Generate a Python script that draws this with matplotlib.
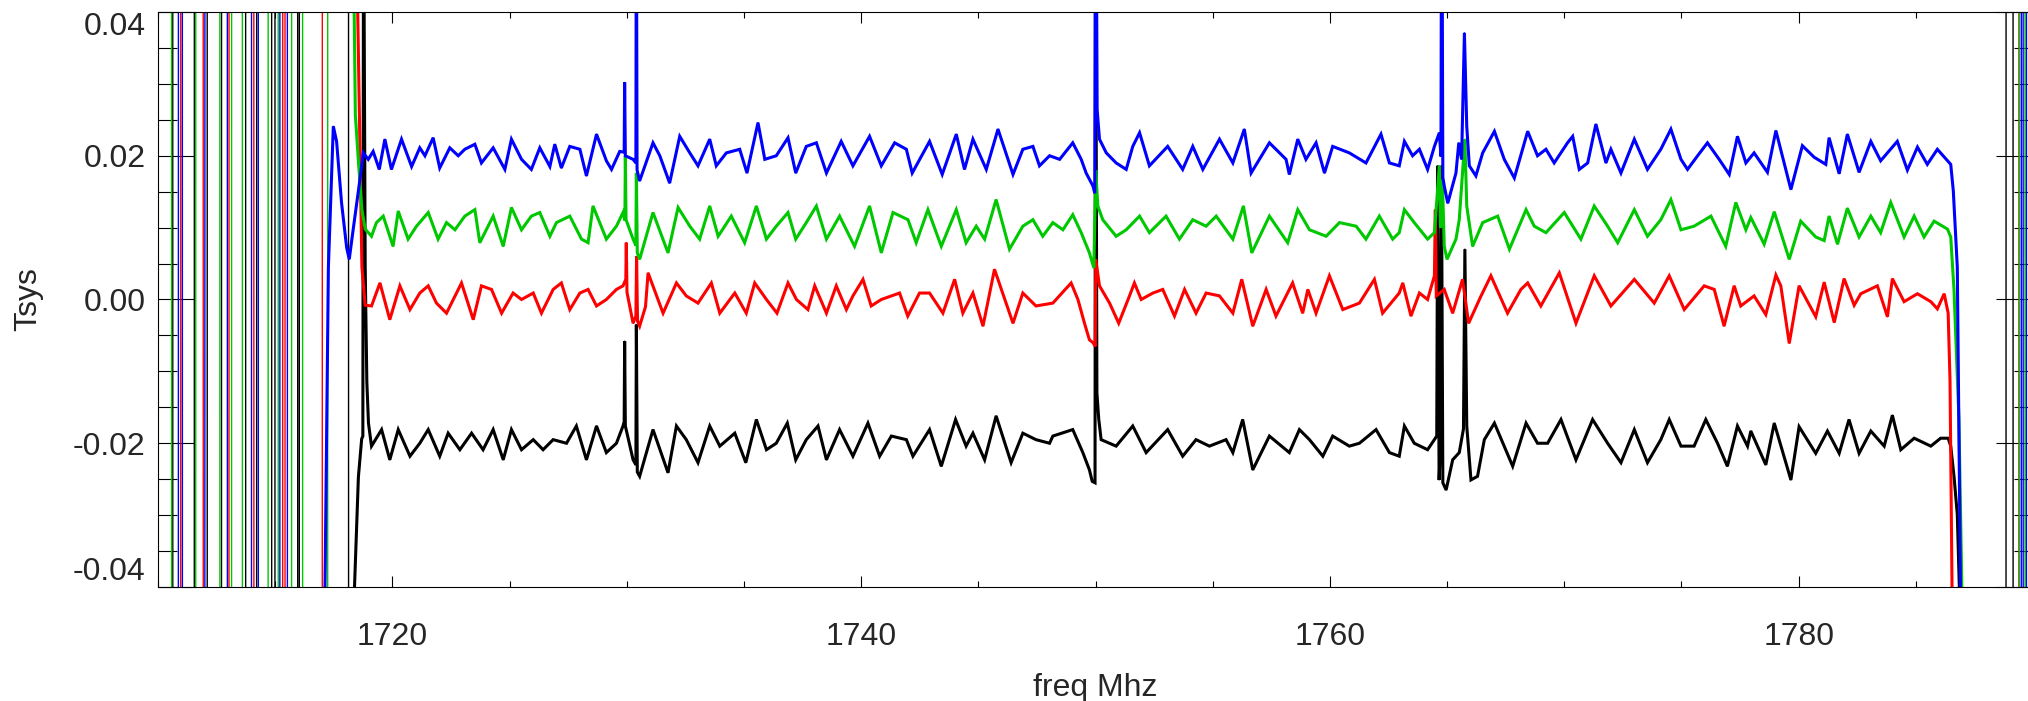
import numpy as np
import matplotlib
matplotlib.use("Agg")
from matplotlib import pyplot as plt
from matplotlib.ticker import MultipleLocator

# Tsys values are in units of 1e-3; frequencies in MHz.
# band-edge channels (far off scale) at the low end
blue_left_f = [1709.5, 1710.86, 1710.88, 1711.03, 1711.05, 1711.99, 1712.01, 1712.95, 1712.97,
               1713.98, 1714.00, 1714.27, 1714.29, 1715.19, 1715.21, 1715.51, 1715.53, 1716.9]
blue_left_v = [-500, -500, 500, 500, -500, -500, 500, 500, -500,
               -500, 500, 500, -500, -500, 500, 500, -500, -500]
green_left_f = [1709.5, 1710.57, 1710.59, 1711.60, 1711.62, 1712.63, 1712.65, 1713.13, 1713.15,
                1713.59, 1713.61, 1714.69, 1714.71, 1715.12, 1715.14, 1715.69, 1715.71, 1716.16,
                1716.18, 1717.23, 1717.25, 1718.2]
green_left_v = [500, 500, -500, -500, 500, 500, -500, -500, 500,
                500, -500, -500, 500, 500, -500, -500, 500, 500,
                -500, -500, 500, 500]
red_left_f = [1709.5, 1710.96, 1710.98, 1711.92, 1711.94, 1713.02, 1713.04, 1714.08, 1714.10,
              1715.31, 1715.33, 1715.41, 1715.43, 1717.00, 1717.02, 1718.3]
red_left_v = [-500, -500, 500, 500, -500, -500, 500, 500, -500,
              -500, 500, 500, -500, -500, 500, 500]
black_left_f = [1709.5, 1710.62, 1710.64, 1711.54, 1711.56, 1712.09, 1712.11, 1712.70, 1712.72,
                1713.73, 1713.75, 1714.20, 1714.22, 1714.84, 1714.86, 1714.98, 1715.00, 1715.95,
                1715.97, 1716.02, 1716.04, 1718.12, 1718.14, 1718.25]
black_left_v = [500, 500, -500, -500, 500, 500, -500, -500, 500,
                500, -500, -500, 500, 500, -500, -500, 500, 500,
                -500, -500, 500, 500, -500, -500]

# band-edge channels at the high end
blue_right_f = [1787.2, 1789.49, 1789.51, 1789.57, 1789.59, 1789.71, 1789.73, 1790.5]
blue_right_v = [-500, -500, 500, 500, -500, -500, 500, 500]
green_right_f = [1787.3, 1789.41, 1789.43, 1789.65, 1789.67, 1790.5]
green_right_v = [-500, -500, 500, 500, -500, -500]
red_right_f = [1786.8, 1789.39, 1789.41, 1790.5]
red_right_v = [-500, -500, 500, 500]
black_right_f = [1787.2, 1788.84, 1788.86, 1789.14, 1789.16, 1790.5]
black_right_v = [-500, -500, 500, 500, -500, -500]

# in-band spectra (freq, Tsys*1e3)
blue_pts = [
    (1717.06, -60), (1717.27, 4.5), (1717.48, 24.1), (1717.62, 22.0), (1717.83, 13.5),
    (1718.05, 7.2), (1718.16, 5.6), (1718.33, 9.8), (1718.55, 15.1), (1718.76, 20.4),
    (1718.97, 19.5), (1719.18, 20.6), (1719.44, 18.1), (1719.68, 22.3), (1719.96, 18.1),
    (1720.39, 22.3), (1720.82, 18.5), (1721.17, 21.1), (1721.39, 20.0), (1721.74, 22.5),
    (1722.02, 18.3), (1722.45, 21.1), (1722.81, 20.0), (1723.09, 20.9), (1723.52, 21.6),
    (1723.80, 19.0), (1724.30, 21.1), (1724.80, 18.1), (1725.08, 22.3), (1725.51, 19.5),
    (1725.93, 18.1), (1726.29, 21.1), (1726.72, 18.5), (1726.93, 21.6), (1727.21, 18.3),
    (1727.57, 21.3), (1728.00, 20.9), (1728.28, 17.2), (1728.71, 23.0), (1729.13, 19.3),
    (1729.35, 18.1), (1729.70, 20.6), (1729.89, 20.5), (1729.91, 30.2), (1729.94, 20.0),
    (1730.27, 19.5), (1730.39, 19.0), (1730.41, 60.0), (1730.44, 18.0), (1730.55, 16.5),
    (1731.12, 21.8), (1731.41, 20.0), (1731.83, 16.2), (1732.26, 22.7), (1732.69, 20.4),
    (1733.04, 18.6), (1733.54, 22.3), (1733.82, 18.6), (1734.25, 20.4), (1734.82, 20.9),
    (1735.13, 17.6), (1735.60, 24.6), (1735.89, 19.5), (1736.38, 20.0), (1736.88, 22.5),
    (1737.21, 17.6), (1737.66, 21.3), (1738.09, 21.8), (1738.52, 17.6), (1739.15, 22.0),
    (1739.65, 18.6), (1740.36, 22.7), (1740.86, 18.6), (1741.43, 21.8), (1741.93, 20.9),
    (1742.18, 17.6), (1742.92, 22.0), (1743.46, 17.4), (1744.06, 23.0), (1744.41, 18.1),
    (1744.77, 22.3), (1745.34, 18.1), (1745.84, 23.7), (1746.48, 17.4), (1746.90, 20.9),
    (1747.33, 21.3), (1747.61, 18.6), (1748.04, 20.0), (1748.47, 19.5), (1749.03, 21.8),
    (1749.39, 19.5), (1749.60, 17.6), (1749.89, 15.8), (1749.97, 14.8), (1750.01, 70.0),
    (1750.07, 26.4), (1750.17, 22.3), (1750.46, 20.4), (1750.88, 19.0), (1751.31, 18.1),
    (1751.59, 21.3), (1751.88, 23.2), (1752.30, 18.6), (1753.08, 21.3), (1753.72, 18.1),
    (1754.15, 21.3), (1754.58, 18.1), (1755.29, 22.3), (1755.86, 19.0), (1756.35, 23.7),
    (1756.64, 17.6), (1757.42, 21.8), (1758.13, 19.5), (1758.27, 17.4), (1758.63, 22.3),
    (1758.98, 19.5), (1759.41, 21.8), (1759.77, 17.6), (1760.12, 21.3), (1760.83, 20.4),
    (1761.54, 19.0), (1762.18, 23.0), (1762.54, 19.0), (1762.96, 18.6), (1763.18, 22.0),
    (1763.53, 20.0), (1763.82, 20.9), (1764.17, 18.1), (1764.46, 21.3), (1764.67, 23.2),
    (1764.74, 19.9), (1764.77, 70.0), (1764.82, 17.0), (1764.88, 15.8), (1765.03, 13.4),
    (1765.38, 17.6), (1765.50, 21.8), (1765.62, 19.5), (1765.74, 37.1), (1765.84, 24.1),
    (1765.95, 18.6), (1766.23, 17.2), (1766.52, 20.4), (1767.02, 23.4), (1767.44, 19.5),
    (1767.87, 16.9), (1768.44, 23.4), (1768.86, 20.0), (1769.22, 20.9), (1769.57, 19.0),
    (1770.14, 21.8), (1770.36, 22.7), (1770.64, 18.1), (1771.00, 19.0), (1771.35, 24.4),
    (1771.78, 19.0), (1771.99, 20.9), (1772.42, 17.6), (1772.99, 22.3), (1773.55, 18.1),
    (1774.12, 20.9), (1774.55, 23.7), (1774.98, 19.5), (1775.26, 18.1), (1775.69, 20.0),
    (1776.11, 21.8), (1776.61, 19.5), (1777.04, 17.4), (1777.39, 22.7), (1777.75, 19.0),
    (1778.10, 20.4), (1778.67, 17.7), (1779.03, 23.5), (1779.67, 15.3), (1780.16, 21.4),
    (1780.66, 19.8), (1781.16, 18.8), (1781.30, 22.5), (1781.73, 17.5), (1782.08, 23.0),
    (1782.58, 17.7), (1783.08, 22.0), (1783.50, 19.3), (1784.21, 22.0), (1784.64, 18.0),
    (1785.07, 21.2), (1785.49, 18.8), (1785.92, 20.9), (1786.35, 19.3), (1786.49, 18.8),
    (1786.60, 15.1), (1786.77, 4.5), (1786.92, -45),
]

green_pts = [
    (1718.30, 60), (1718.42, 25.7), (1718.56, 18.8), (1718.70, 12.5), (1718.84, 9.8),
    (1719.11, 8.8), (1719.32, 10.7), (1719.61, 11.6), (1720.03, 7.4), (1720.25, 12.3),
    (1720.67, 8.4), (1721.03, 10.2), (1721.53, 12.1), (1721.95, 8.4), (1722.31, 10.7),
    (1722.67, 9.7), (1723.09, 11.6), (1723.52, 12.5), (1723.73, 7.9), (1724.30, 11.6),
    (1724.73, 7.4), (1725.08, 12.8), (1725.51, 9.7), (1725.93, 11.6), (1726.29, 12.1),
    (1726.72, 8.8), (1727.00, 10.7), (1727.57, 11.6), (1728.07, 8.4), (1728.35, 7.9),
    (1728.56, 13.0), (1729.13, 8.4), (1729.56, 10.2), (1729.84, 12.1), (1729.92, 11.0),
    (1729.94, 20.0), (1729.97, 11.1), (1730.27, 8.4), (1730.39, 7.5), (1730.41, 17.6),
    (1730.45, 6.5), (1730.55, 5.6), (1731.12, 12.1), (1731.76, 6.5), (1732.19, 12.8),
    (1732.69, 10.2), (1733.11, 8.4), (1733.54, 13.0), (1733.90, 8.8), (1734.46, 11.6),
    (1735.03, 7.9), (1735.53, 13.0), (1735.96, 8.4), (1736.38, 10.2), (1736.88, 12.1),
    (1737.21, 8.4), (1737.66, 10.7), (1738.09, 13.0), (1738.52, 8.4), (1739.08, 11.6),
    (1739.72, 7.4), (1740.36, 13.0), (1740.86, 6.5), (1741.36, 12.1), (1742.00, 11.1),
    (1742.35, 7.9), (1742.85, 12.5), (1743.42, 7.4), (1744.06, 12.5), (1744.48, 7.9),
    (1744.91, 10.2), (1745.27, 8.4), (1745.76, 13.9), (1746.33, 7.0), (1746.90, 10.2),
    (1747.33, 11.1), (1747.75, 8.8), (1748.18, 10.7), (1748.61, 9.7), (1749.03, 11.8),
    (1749.39, 9.3), (1749.74, 6.5), (1749.93, 4.4), (1750.01, 18.0), (1750.10, 13.0),
    (1750.31, 11.1), (1750.88, 8.8), (1751.31, 9.7), (1751.88, 11.6), (1752.30, 9.3),
    (1753.01, 11.6), (1753.58, 8.4), (1754.15, 11.1), (1754.72, 10.2), (1755.15, 11.6),
    (1755.86, 8.4), (1756.31, 13.0), (1756.67, 6.5), (1757.42, 11.6), (1758.20, 7.9),
    (1758.63, 12.5), (1759.13, 9.7), (1759.84, 8.8), (1760.41, 10.7), (1761.12, 10.2),
    (1761.54, 8.4), (1762.11, 11.6), (1762.68, 8.4), (1762.96, 9.3), (1763.18, 12.5),
    (1763.60, 10.7), (1764.17, 8.4), (1764.46, 9.3), (1764.67, 18.6), (1764.72, 10.0),
    (1764.80, 16.7), (1764.88, 7.4), (1765.00, 5.6), (1765.38, 8.4), (1765.52, 11.1),
    (1765.76, 22.3), (1765.84, 13.0), (1766.09, 7.4), (1766.52, 10.7), (1767.16, 11.6),
    (1767.66, 7.0), (1768.37, 12.5), (1768.72, 10.2), (1769.22, 9.3), (1770.00, 12.1),
    (1770.71, 8.4), (1771.28, 13.0), (1771.85, 10.2), (1772.28, 7.9), (1772.99, 12.5),
    (1773.55, 8.8), (1774.12, 11.1), (1774.55, 13.9), (1774.98, 9.7), (1775.54, 10.2),
    (1776.26, 11.6), (1776.89, 7.4), (1777.32, 13.5), (1777.75, 9.7), (1777.96, 11.4),
    (1778.53, 7.7), (1778.96, 12.2), (1779.60, 5.6), (1780.09, 10.9), (1780.73, 8.7),
    (1781.09, 8.2), (1781.30, 11.6), (1781.66, 7.7), (1782.08, 12.7), (1782.58, 8.7),
    (1783.08, 11.6), (1783.50, 9.3), (1783.93, 13.5), (1784.50, 8.7), (1784.93, 11.6),
    (1785.35, 8.7), (1785.78, 10.9), (1786.35, 9.8), (1786.49, 8.7), (1786.63, 1.3),
    (1786.84, -16.7), (1786.99, -45),
]

red_pts = [
    (1718.42, 60), (1718.70, 4.5), (1718.84, -0.8), (1719.11, -0.9), (1719.47, 2.3),
    (1719.89, -2.8), (1720.32, 1.9), (1720.75, -1.4), (1721.17, 0.9), (1721.53, 1.9),
    (1721.88, -0.5), (1722.31, -1.9), (1722.95, 2.3), (1723.45, -2.8), (1723.80, 1.9),
    (1724.23, 1.4), (1724.66, -1.9), (1725.15, 0.9), (1725.51, 0.0), (1726.01, 0.9),
    (1726.36, -1.9), (1726.86, 1.4), (1727.21, 2.3), (1727.57, -1.4), (1728.00, 0.9),
    (1728.35, 1.4), (1728.71, -0.9), (1729.13, 0.0), (1729.56, 1.4), (1729.84, 1.9),
    (1729.96, 2.8), (1729.98, 7.9), (1730.01, 1.0), (1730.27, -3.3), (1730.39, -2.3),
    (1730.42, 6.0), (1730.46, -3.0), (1730.55, -3.7), (1730.80, -1.0), (1730.91, 3.7),
    (1731.55, -1.9), (1732.12, 2.3), (1732.54, 0.5), (1733.04, -0.5), (1733.61, 2.3),
    (1733.97, -1.9), (1734.61, 0.9), (1735.10, -1.9), (1735.46, 2.3), (1735.96, 0.0),
    (1736.41, -1.9), (1736.88, 2.3), (1737.24, 0.0), (1737.73, -1.4), (1738.02, 1.9),
    (1738.52, -1.9), (1738.94, 1.9), (1739.37, -1.4), (1739.65, 0.5), (1740.08, 2.8),
    (1740.43, -0.9), (1740.86, 0.0), (1741.64, 0.9), (1741.99, -2.3), (1742.49, 0.9),
    (1742.92, 0.9), (1743.49, -1.9), (1743.99, 2.8), (1744.34, -1.9), (1744.77, 0.9),
    (1745.20, -3.7), (1745.69, 4.2), (1746.48, -3.3), (1746.90, 0.9), (1747.46, -0.9),
    (1748.18, -0.5), (1748.96, 2.3), (1749.25, 0.0), (1749.53, -3.3), (1749.74, -5.6),
    (1749.89, -6.0), (1749.99, -6.5), (1750.01, 5.6), (1750.17, 1.9), (1750.60, -0.5),
    (1750.99, -3.3), (1751.45, 0.5), (1751.66, 2.3), (1751.95, 0.0), (1752.45, 0.9),
    (1752.87, 1.4), (1753.37, -2.3), (1753.80, 1.4), (1754.29, -1.9), (1754.72, 0.9),
    (1755.29, 0.5), (1755.86, -1.9), (1756.24, 2.8), (1756.71, -3.7), (1757.28, 1.4),
    (1757.70, -2.3), (1758.41, 2.3), (1758.84, -1.9), (1759.06, 1.4), (1759.41, -1.9),
    (1759.98, 3.3), (1760.55, -1.4), (1761.26, -0.5), (1761.90, 2.8), (1762.25, -1.9),
    (1762.96, 0.9), (1763.11, 2.3), (1763.46, -2.3), (1763.82, 0.9), (1764.17, 0.0),
    (1764.46, 3.3), (1764.50, 12.5), (1764.54, 0.5), (1764.88, 1.4), (1765.24, -1.9),
    (1765.66, 2.8), (1765.92, -3.3), (1766.45, 0.5), (1766.87, 3.3), (1767.58, -1.9),
    (1768.15, 1.4), (1768.44, 2.3), (1769.00, -0.9), (1769.79, 3.7), (1770.50, -3.3),
    (1771.28, 3.3), (1771.99, -0.9), (1772.99, 2.8), (1773.84, -0.5), (1774.48, 3.3),
    (1775.12, -1.4), (1775.97, 1.9), (1776.40, 1.4), (1776.82, -3.7), (1777.25, 1.9),
    (1777.53, -0.9), (1778.10, 0.5), (1778.60, -2.1), (1779.03, 3.4), (1779.24, 1.9),
    (1779.60, -6.1), (1780.02, 1.9), (1780.73, -2.4), (1781.09, 2.4), (1781.52, -3.2),
    (1781.94, 2.9), (1782.37, -0.8), (1782.65, 0.8), (1783.36, 1.9), (1783.79, -2.4),
    (1784.00, 2.9), (1784.50, -0.3), (1785.07, 0.8), (1785.64, -0.3), (1785.92, -1.3),
    (1786.21, 0.8), (1786.38, -1.9), (1786.46, -11.4), (1786.56, -45),
]

black_pts = [
    (1718.33, -45), (1718.55, -24.7), (1718.69, -19.4), (1718.74, -19.0), (1718.77, 60),
    (1718.84, 4.5), (1718.91, -11.4), (1718.98, -17.2), (1719.11, -20.4), (1719.54, -18.1),
    (1719.89, -22.3), (1720.25, -18.1), (1720.75, -21.8), (1721.17, -20.0), (1721.53, -18.1),
    (1722.02, -21.8), (1722.38, -18.6), (1722.88, -20.9), (1723.38, -18.6), (1723.87, -20.9),
    (1724.30, -18.1), (1724.73, -22.3), (1725.08, -18.1), (1725.51, -20.9), (1726.01, -19.5),
    (1726.43, -20.9), (1726.86, -19.5), (1727.43, -20.0), (1727.85, -17.6), (1728.28, -22.3),
    (1728.71, -17.6), (1729.13, -21.3), (1729.56, -20.0), (1729.84, -17.6), (1729.89, -17.0),
    (1729.91, -5.8), (1729.94, -17.6), (1730.27, -22.3), (1730.39, -23.0), (1730.41, -3.5),
    (1730.45, -24.0), (1730.55, -24.6), (1731.12, -18.1), (1731.76, -24.1), (1732.12, -17.6),
    (1732.54, -19.5), (1733.04, -22.7), (1733.54, -17.6), (1733.97, -20.4), (1734.61, -18.6),
    (1735.08, -22.7), (1735.53, -16.7), (1735.96, -20.9), (1736.38, -20.0), (1736.85, -17.2),
    (1737.21, -22.3), (1737.66, -19.5), (1738.16, -17.6), (1738.52, -22.3), (1739.08, -18.1),
    (1739.65, -21.8), (1740.29, -17.2), (1740.79, -21.8), (1741.29, -19.0), (1741.93, -19.5),
    (1742.21, -21.8), (1742.92, -18.1), (1743.42, -23.2), (1744.03, -16.7), (1744.48, -20.4),
    (1744.77, -18.6), (1745.27, -22.3), (1745.76, -16.2), (1746.40, -22.7), (1746.90, -18.6),
    (1747.46, -19.5), (1748.04, -20.0), (1748.18, -19.0), (1749.03, -18.1), (1749.46, -21.3),
    (1749.74, -23.7), (1749.86, -25.3), (1749.98, -25.5), (1750.00, 60), (1750.06, -13.0),
    (1750.14, -16.7), (1750.24, -19.5), (1750.88, -20.4), (1751.59, -17.6), (1752.16, -21.3),
    (1753.08, -18.1), (1753.72, -21.8), (1754.29, -19.5), (1754.86, -20.4), (1755.57, -19.5),
    (1755.86, -21.3), (1756.28, -16.7), (1756.71, -23.7), (1757.42, -19.0), (1758.27, -21.3),
    (1758.70, -18.1), (1759.13, -19.5), (1759.70, -21.8), (1760.12, -19.0), (1760.83, -20.4),
    (1761.26, -20.0), (1761.97, -18.1), (1762.54, -21.3), (1762.96, -21.8), (1763.18, -17.6),
    (1763.60, -20.0), (1764.17, -20.9), (1764.46, -19.5), (1764.56, -19.0), (1764.60, 18.6),
    (1764.66, -25.1), (1764.72, -20.0), (1764.76, 18.6), (1764.82, -25.5), (1764.96, -26.5),
    (1765.24, -22.3), (1765.52, -21.3), (1765.70, -18.0), (1765.76, 7.0), (1765.84, -17.6),
    (1766.02, -25.1), (1766.30, -24.6), (1766.59, -19.5), (1767.02, -17.2), (1767.80, -23.2),
    (1768.37, -17.2), (1768.86, -20.0), (1769.29, -20.0), (1769.86, -16.7), (1770.50, -22.3),
    (1771.21, -16.7), (1771.85, -20.0), (1772.42, -22.7), (1772.99, -18.1), (1773.55, -22.7),
    (1774.12, -19.5), (1774.48, -16.7), (1774.98, -20.4), (1775.54, -20.4), (1776.04, -16.7),
    (1776.54, -20.0), (1776.96, -23.2), (1777.39, -17.6), (1777.82, -20.4), (1777.96, -18.3),
    (1778.60, -23.0), (1778.96, -17.2), (1779.67, -25.1), (1780.02, -17.7), (1780.73, -21.4),
    (1781.23, -18.3), (1781.73, -21.4), (1782.15, -16.7), (1782.58, -21.4), (1783.08, -18.3),
    (1783.65, -20.4), (1784.00, -16.1), (1784.36, -20.9), (1784.93, -19.3), (1785.64, -20.4),
    (1786.06, -19.3), (1786.38, -19.3), (1786.49, -20.4), (1786.63, -24.6), (1786.77, -29.9),
    (1786.90, -45),
]

y_ticks = [-0.04, -0.02, 0.0, 0.02, 0.04]
y_labels = ["-0.04", "-0.02", "0.00", "0.02", "0.04"]
x_ticks = [1720, 1740, 1760, 1780]
x_labels = ["1720", "1740", "1760", "1780"]


def spectrum(left_f, left_v, pts, right_f, right_v):
    """Join the band-edge channels and the in-band points of one spectrum."""
    freq = list(left_f) + [p[0] for p in pts] + list(right_f)
    tsys = list(left_v) + [p[1] for p in pts] + list(right_v)
    return np.array(freq), np.array(tsys) * 1e-3


def main():
    plt.rcParams['font.family'] = ['Liberation Sans', 'DejaVu Sans']
    plt.rcParams['axes.unicode_minus'] = False
    text_color = "#262626"
    fsize = 23

    fig = plt.figure(figsize=(20.28, 7.01), dpi=100)
    ax = fig.add_axes([158 / 2028, 114 / 701, 1875 / 2028, 575 / 701])

    series = [
        (black_left_f, black_left_v, black_pts, black_right_f, black_right_v, "#000000"),
        (red_left_f, red_left_v, red_pts, red_right_f, red_right_v, "#ff0000"),
        (green_left_f, green_left_v, green_pts, green_right_f, green_right_v, "#00c800"),
        (blue_left_f, blue_left_v, blue_pts, blue_right_f, blue_right_v, "#0000ff"),
    ]
    for lf, lv, pts, rf, rv, color in series:
        freq, tsys = spectrum(lf, lv, pts, rf, rv)
        # thin line for the whole spectrum, heavier for the noisy in-band part
        ax.plot(freq, tsys, color=color, linewidth=1.0)
        ax.plot([p[0] for p in pts], np.array([p[1] for p in pts]) * 1e-3,
                color=color, linewidth=2.2, solid_joinstyle="miter")

    ax.set_xlim(1710, 1790)
    ax.set_ylim(-0.04, 0.04)

    ax.set_xticks(x_ticks, x_labels)
    ax.set_yticks(y_ticks, y_labels)
    ax.xaxis.set_minor_locator(MultipleLocator(5))
    ax.yaxis.set_minor_locator(MultipleLocator(0.005))

    ax.tick_params(axis="both", which="both", direction="in",
                   top=True, right=True, width=0.8, colors="black",
                   labelcolor=text_color, labelsize=fsize)
    ax.tick_params(axis="x", which="major", length=8, pad=25)
    ax.tick_params(axis="x", which="minor", length=4)
    ax.tick_params(axis="y", which="major", length=26.5, pad=9)
    ax.tick_params(axis="y", which="minor", length=13.5)

    ylabels = ax.get_yticklabels()
    ylabels[0].set_verticalalignment("bottom")
    ylabels[-1].set_verticalalignment("top")

    for sp in ax.spines.values():
        sp.set_linewidth(0.8)

    ax.set_xlabel("freq Mhz", fontsize=fsize, color=text_color, labelpad=15)
    ax.set_ylabel("Tsys", fontsize=fsize, color=text_color)
    ax.yaxis.set_label_coords(-0.061, 0.5)

    fig.savefig("out.png", dpi=100)


if __name__ == "__main__":
    main()
